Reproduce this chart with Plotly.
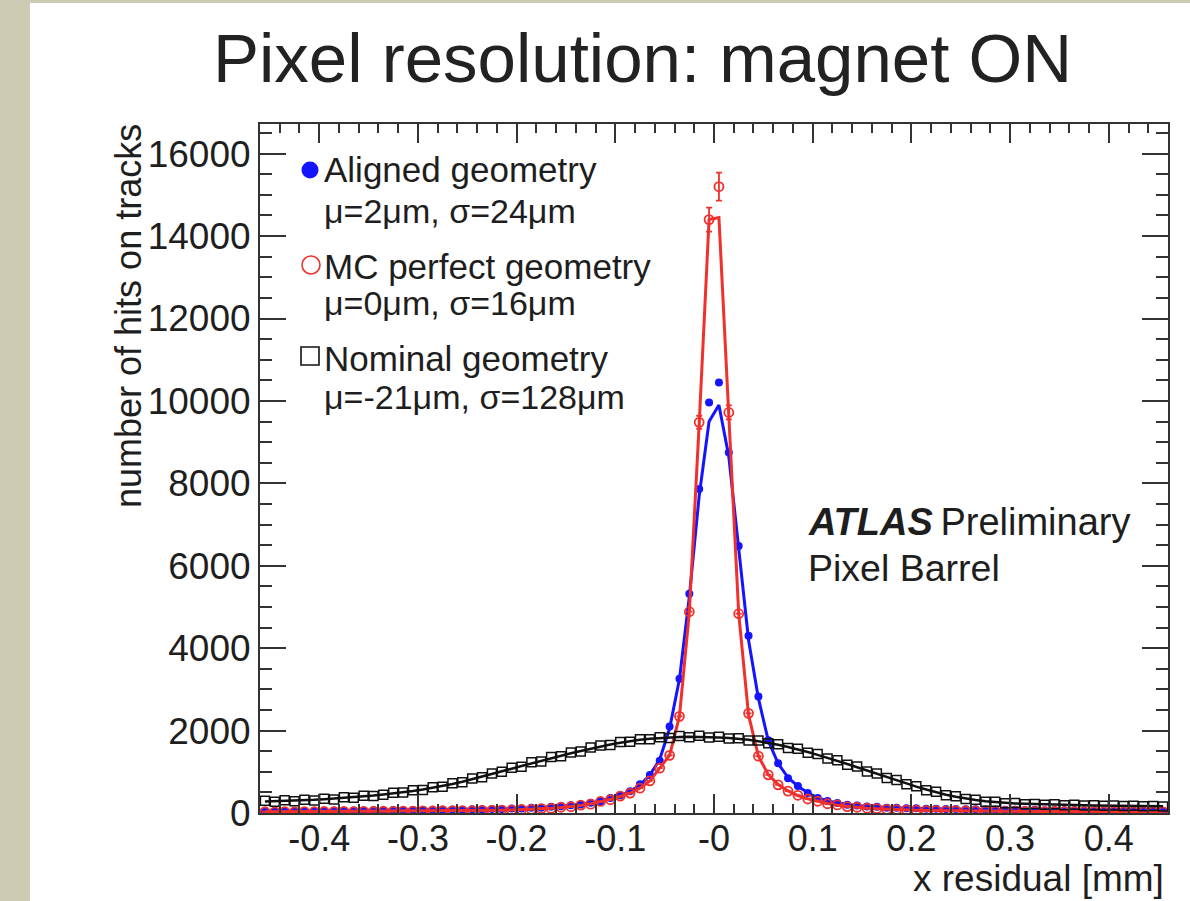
import numpy as np
import plotly.graph_objects as go

# ---------------- data (histogram: 92 bins of 0.01 mm from -0.46 to 0.46) ----------------
x_low, x_high, n_bins = -0.46, 0.46, 92
bin_centers = np.round(np.linspace(x_low + 0.005, x_high - 0.005, n_bins), 4)

nominal_counts = [
    300, 270, 310, 285, 320, 305, 345, 330, 380, 370,
    420, 410, 440, 490, 495, 550, 560, 625, 640, 720,
    745, 840, 870, 960, 1000, 1100, 1120, 1230, 1250, 1360,
    1380, 1470, 1490, 1590, 1640, 1650, 1720, 1730, 1790, 1790,
    1840, 1820, 1870, 1840, 1875, 1830, 1850, 1810, 1815, 1760,
    1760, 1690, 1670, 1580, 1560, 1460, 1430, 1320, 1280, 1170,
    1130, 1010, 960, 850, 800, 700, 650, 555, 515, 430,
    405, 340, 320, 275, 270, 235, 240, 215, 220, 200,
    210, 190, 200, 180, 190, 175, 185, 168, 178, 162,
    170, 160]
nominal_fit = [
    280, 285, 290, 300, 310, 320, 335, 350, 365, 385,
    405, 425, 450, 475, 505, 535, 570, 610, 655, 705,
    760, 820, 880, 945, 1010, 1075, 1140, 1205, 1270, 1335,
    1395, 1450, 1505, 1560, 1610, 1660, 1705, 1745, 1775, 1800,
    1820, 1835, 1845, 1850, 1850, 1845, 1835, 1820, 1800, 1775,
    1740, 1700, 1655, 1600, 1545, 1480, 1410, 1340, 1265, 1190,
    1110, 1030, 950, 870, 790, 715, 640, 570, 505, 445,
    395, 350, 315, 285, 262, 245, 232, 222, 213, 206,
    200, 195, 190, 186, 182, 178, 175, 172, 170, 168,
    166, 164]

aligned_counts = [
    40, 45, 44, 50, 47, 55, 52, 58, 56, 62,
    60, 66, 64, 70, 68, 75, 72, 79, 76, 83,
    80, 89, 88, 97, 96, 108, 110, 126, 130, 152,
    162, 190, 205, 250, 288, 362, 430, 530, 700, 920,
    1270, 2100, 3260, 5320, 7860, 9960, 10450, 8750, 6480, 4300,
    2830, 1765, 1210, 846, 653, 484, 363, 290, 242, 201,
    185, 158, 150, 130, 128, 114, 115, 103, 105, 95,
    97, 89, 91, 83, 85, 77, 80, 73, 76, 69,
    72, 65, 68, 61, 63, 57, 59, 53, 55, 49,
    50, 46]
aligned_fit = [
    42, 44, 46, 48, 50, 52, 54, 56, 58, 60,
    62, 64, 66, 68, 70, 72, 74, 76, 78, 80,
    83, 86, 90, 94, 99, 105, 113, 122, 134, 148,
    165, 185, 210, 245, 290, 350, 425, 520, 680, 920,
    1300, 2050, 3250, 5250, 7700, 9500, 9900, 8650, 6400, 4200,
    2780, 1760, 1200, 860, 650, 490, 370, 295, 245, 205,
    180, 160, 145, 133, 124, 117, 111, 106, 101, 97,
    94, 91, 88, 85, 82, 79, 77, 75, 73, 71,
    69, 67, 65, 63, 61, 59, 57, 55, 53, 51,
    49, 47]

mc_counts = [
    30, 26, 33, 28, 35, 31, 36, 33, 39, 35,
    41, 37, 43, 40, 47, 44, 51, 48, 55, 52,
    60, 55, 65, 62, 72, 71, 86, 88, 106, 112,
    140, 152, 192, 215, 280, 322, 411, 484, 605, 780,
    1090, 1400, 2345, 4885, 9480, 14400, 15200, 9720, 4836, 2418,
    1380, 926, 684, 532, 430, 340, 285, 225, 195, 155,
    140, 115, 106, 88, 84, 70, 69, 60, 60, 53,
    54, 48, 50, 44, 46, 40, 42, 37, 40, 35,
    37, 33, 35, 31, 33, 29, 31, 28, 30, 27,
    29, 26]
mc_fit = [
    28, 29, 30, 31, 32, 33, 34, 35, 36, 37,
    38, 39, 40, 42, 44, 46, 48, 50, 52, 54,
    56, 58, 61, 64, 68, 74, 81, 90, 101, 115,
    133, 156, 185, 222, 270, 330, 400, 480, 600, 780,
    1090, 1400, 2350, 4870, 9450, 14400, 14450, 9650, 4850, 2380,
    1380, 930, 690, 535, 425, 345, 280, 230, 190, 160,
    137, 118, 103, 91, 81, 73, 67, 62, 58, 55,
    52, 50, 48, 46, 44, 42, 40, 39, 38, 37,
    36, 35, 34, 33, 32, 31, 30, 30, 29, 29,
    28, 28]
# visible statistical error bars (bin centre -> error)
mc_errors = {-0.015: 160, -0.005: 290, 0.005: 340, 0.015: 170}

x_tickvals = [-0.4, -0.3, -0.2, -0.1, 0.0, 0.1, 0.2, 0.3, 0.4]
x_ticktext = ["-0.4", "-0.3", "-0.2", "-0.1", "-0", "0.1", "0.2", "0.3", "0.4"]
y_tickvals = [0, 2000, 4000, 6000, 8000, 10000, 12000, 14000, 16000]
y_ticktext = ["0", "2000", "4000", "6000", "8000", "10000", "12000", "14000", "16000"]

legend_labels = [
    ("Aligned geometry", "\u03bc=2\u03bcm, \u03c3=24\u03bcm"),
    ("MC perfect geometry", "\u03bc=0\u03bcm, \u03c3=16\u03bcm"),
    ("Nominal geometry", "\u03bc=-21\u03bcm, \u03c3=128\u03bcm"),
]

# ---------------- styling ----------------
W, H = 1190, 901
L, R, T, B = 260, 22, 124, 88
PW, PH = W - L - R, H - T - B
FONT = "Liberation Sans, Arial, Helvetica, sans-serif"
TXT = "#1e1e1e"
BLUE = "#1414ff"
RED = "#f0302c"
BLACK = "#111111"
AXC = "#333333"


def px(xp):
    return (xp - L) / PW


def py(yp):
    return (H - B - yp) / PH


mc_err_list = [mc_errors.get(round(float(c), 3), 0) for c in bin_centers]

fig = go.Figure()
fig.add_trace(go.Scatter(x=bin_centers, y=aligned_fit, mode="lines",
                         line=dict(color=BLUE, width=3), hoverinfo="skip"))
fig.add_trace(go.Scatter(x=bin_centers, y=aligned_counts, mode="markers",
                         marker=dict(color=BLUE, size=8, symbol="circle", opacity=1)))
fig.add_trace(go.Scatter(x=bin_centers, y=mc_fit, mode="lines",
                         line=dict(color=RED, width=3), hoverinfo="skip"))
fig.add_trace(go.Scatter(x=bin_centers, y=mc_counts, mode="markers",
                         marker=dict(color=RED, size=9, symbol="circle-open", line=dict(width=1.8)),
                         error_y=dict(type="data", array=mc_err_list, color=RED, thickness=1.8, width=3)))
fig.add_trace(go.Scatter(x=bin_centers, y=nominal_fit, mode="lines",
                         line=dict(color=BLACK, width=2.5), hoverinfo="skip"))
fig.add_trace(go.Scatter(x=bin_centers, y=nominal_counts, mode="markers",
                         marker=dict(color=BLACK, size=9, symbol="square-open", line=dict(width=1.5))))

# legend symbols on an overlay unit axis
legend_sym = [("circle", BLUE, 17, 0, 170, 310), ("circle-open", RED, 18, 1.6, 265, 311),
              ("square-open", BLACK, 18, 1.6, 356, 310)]
for sym, col, size, lw, ypx, xpx in legend_sym:
    fig.add_trace(go.Scatter(
        x=[px(xpx)], y=[py(ypx)], mode="markers", xaxis="x2", yaxis="y2", hoverinfo="skip",
        opacity=1,
        marker=dict(size=size, symbol=sym, color=col, opacity=1, line=dict(width=lw, color=col))))

annotations = []
line_y = [(170, 211), (266, 303), (358, 397)]
for (l1, l2), (y1, y2) in zip(legend_labels, line_y):
    annotations.append(dict(text=l1, x=px(322), y=py(y1), xref="paper", yref="paper",
                            xanchor="left", yanchor="middle", showarrow=False,
                            font=dict(family=FONT, size=35, color=TXT)))
    annotations.append(dict(text=l2, x=px(322), y=py(y2), xref="paper", yref="paper",
                            xanchor="left", yanchor="middle", showarrow=False,
                            font=dict(family=FONT, size=34, color=TXT)))

annotations += [
    dict(text="Pixel resolution: magnet ON", x=px(642), y=py(58), xref="paper", yref="paper",
         xanchor="center", yanchor="middle", showarrow=False,
         font=dict(family=FONT, size=69, color="#222222")),
    dict(text="<b><i>ATLAS</i></b>\u2009Preliminary", x=px(806), y=py(522), xref="paper", yref="paper",
         xanchor="left", yanchor="middle", showarrow=False,
         font=dict(family=FONT, size=38, color=TXT)),
    dict(text="Pixel Barrel", x=px(806), y=py(568), xref="paper", yref="paper",
         xanchor="left", yanchor="middle", showarrow=False,
         font=dict(family=FONT, size=37.5, color=TXT)),
    dict(text="x residual [mm]", x=px(1166), y=py(878), xref="paper", yref="paper",
         xanchor="right", yanchor="middle", showarrow=False,
         font=dict(family=FONT, size=37, color=TXT)),
    dict(text="number of hits on tracks", x=px(128), y=py(316), xref="paper", yref="paper",
         xanchor="center", yanchor="middle", textangle=-90, showarrow=False,
         font=dict(family=FONT, size=36, color=TXT)),
]

shapes = [
    dict(type="rect", xref="paper", yref="paper", x0=px(0), x1=px(30), y0=py(H), y1=py(0),
         fillcolor="#cccab2", line=dict(width=0), layer="below"),
    dict(type="rect", xref="paper", yref="paper", x0=px(0), x1=px(W), y0=py(3), y1=py(0),
         fillcolor="#cccab2", line=dict(width=0), layer="below"),
]

fig.update_layout(
    width=W, height=H,
    margin=dict(l=L, r=R, t=T, b=B, pad=0),
    paper_bgcolor="white", plot_bgcolor="white",
    showlegend=False,
    font=dict(family=FONT, color=TXT),
    annotations=annotations, shapes=shapes,
    xaxis=dict(range=[x_low, x_high], showgrid=False, zeroline=False,
               showline=True, linewidth=2, linecolor=AXC, mirror="allticks",
               ticks="inside", ticklen=19, tickwidth=1.5, tickcolor=AXC,
               tickvals=x_tickvals, ticktext=x_ticktext, ticklabelstandoff=-7,
               tickfont=dict(family=FONT, size=36, color=TXT),
               minor=dict(ticks="inside", ticklen=9, tickwidth=1.5, tickcolor=AXC,
                          dtick=0.02, tick0=0, showgrid=False)),
    yaxis=dict(range=[0, 16720], showgrid=False, zeroline=False,
               showline=True, linewidth=2, linecolor=AXC, mirror="allticks",
               ticks="inside", ticklen=26, tickwidth=1.5, tickcolor=AXC,
               tickvals=y_tickvals, ticktext=y_ticktext,
               tickfont=dict(family=FONT, size=37, color=TXT),
               minor=dict(ticks="inside", ticklen=12, tickwidth=1.5, tickcolor=AXC,
                          dtick=500, tick0=0, showgrid=False)),
    xaxis2=dict(range=[0, 1], overlaying="x", visible=False),
    yaxis2=dict(range=[0, 1], overlaying="y", visible=False),
)

fig.write_html("out.html", config={"displayModeBar": False},
               post_script="document.body.style.margin='0';")
